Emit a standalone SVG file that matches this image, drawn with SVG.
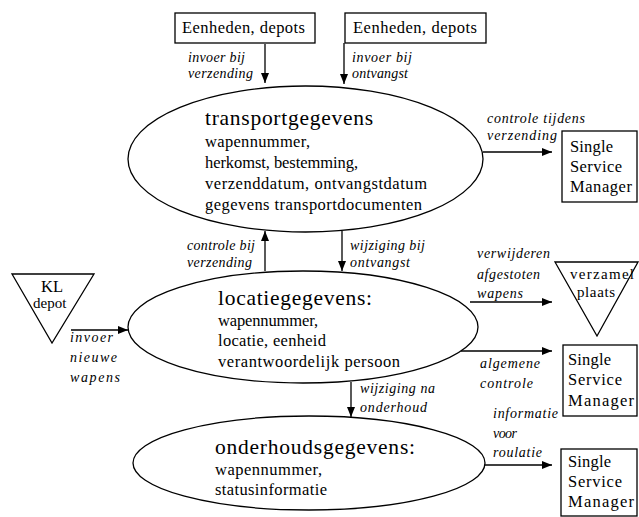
<svg xmlns="http://www.w3.org/2000/svg" width="639" height="517" viewBox="0 0 639 517">
<style>
.s{fill:none;stroke:#000;stroke-width:1.3}
.c{stroke:#000;stroke-width:1.3;fill:none}
.t{font-family:"Liberation Serif",serif;fill:#000}
.ti{font-size:21.5px}
.b{font-size:16.5px}
.bx{font-size:16.5px}
.sm{font-size:15px}
.l{font-family:"Liberation Serif",serif;font-style:italic;font-size:14px;fill:#000}
</style>
<defs>
<marker id="ah" markerUnits="userSpaceOnUse" markerWidth="10" markerHeight="8" refX="10" refY="4" orient="auto">
<path d="M0,0 L10,4 L0,8 z" fill="#000"/>
</marker>
</defs>
<rect width="639" height="517" fill="#fff"/>

<g id="eenheden1">
<rect class="s" x="175" y="13" width="140" height="30"/>
<text class="t bx" x="182" y="33" textLength="123">Eenheden, depots</text>
</g>
<g id="eenheden2">
<rect class="s" x="345" y="13" width="141" height="30"/>
<text class="t bx" x="353" y="33" textLength="124">Eenheden, depots</text>
</g>

<g id="transportgegevens">
<ellipse class="s" cx="305.5" cy="159" rx="177.5" ry="73"/>
<text class="t ti" x="205" y="125" textLength="168">transportgegevens</text>
<text class="t b" x="205" y="147" textLength="105">wapennummer,</text>
<text class="t b" x="205" y="168" textLength="153">herkomst, bestemming,</text>
<text class="t b" x="205" y="189" textLength="222">verzenddatum, ontvangstdatum</text>
<text class="t b" x="205" y="210" textLength="217">gegevens transportdocumenten</text>
</g>

<g id="ssm1">
<rect class="s" x="562" y="131" width="75" height="71"/>
<text class="t bx" x="570" y="152" textLength="43">Single</text>
<text class="t bx" x="570" y="172" textLength="52">Service</text>
<text class="t bx" x="570" y="192" textLength="62">Manager</text>
</g>

<g id="kldepot">
<polygon class="s" points="12,274 94,274 52,343"/>
<text class="t bx" x="41" y="292">KL</text>
<text class="t sm" x="33" y="308">depot</text>
</g>

<g id="locatiegegevens">
<ellipse class="s" cx="303" cy="327" rx="175" ry="56"/>
<text class="t ti" x="218" y="305" textLength="154">locatiegegevens:</text>
<text class="t b" x="218" y="326" textLength="100">wapennummer,</text>
<text class="t b" x="218" y="346" textLength="108">locatie, eenheid</text>
<text class="t b" x="218" y="367" textLength="182">verantwoordelijk  persoon</text>
</g>

<g id="verzamelplaats">
<polygon class="s" points="555,262 638,262 597,336"/>
<text class="t sm" x="570" y="279" textLength="64">verzamel</text>
<text class="t sm" x="577" y="297" textLength="38">plaats</text>
</g>

<g id="ssm2">
<rect class="s" x="563" y="345" width="74" height="71"/>
<text class="t bx" x="568" y="365" textLength="43">Single</text>
<text class="t bx" x="568" y="385" textLength="54">Service</text>
<text class="t bx" x="568" y="406" textLength="66">Manager</text>
</g>

<g id="onderhoudsgegevens">
<ellipse class="s" cx="309" cy="463" rx="176" ry="47"/>
<text class="t ti" x="215" y="454" textLength="200">onderhoudsgegevens:</text>
<text class="t b" x="215" y="475" textLength="107">wapennummer,</text>
<text class="t b" x="215" y="495" textLength="112">statusinformatie</text>
</g>

<g id="ssm3">
<rect class="s" x="561" y="449" width="76" height="67"/>
<text class="t bx" x="568" y="467" textLength="43">Single</text>
<text class="t bx" x="568" y="487" textLength="54">Service</text>
<text class="t bx" x="568" y="507" textLength="66">Manager</text>
</g>

<g id="connectors">
<line class="c" x1="265" y1="44" x2="265" y2="83" marker-end="url(#ah)"/>
<line class="c" x1="344" y1="43" x2="344" y2="84" marker-end="url(#ah)"/>
<line class="c" x1="483" y1="152" x2="552" y2="152" marker-end="url(#ah)"/>
<line class="c" x1="265" y1="271" x2="265" y2="231" marker-end="url(#ah)"/>
<line class="c" x1="342" y1="231" x2="342" y2="271" marker-end="url(#ah)"/>
<line class="c" x1="71" y1="330" x2="128" y2="330" marker-end="url(#ah)"/>
<line class="c" x1="470" y1="302" x2="552" y2="302" marker-end="url(#ah)"/>
<line class="c" x1="461" y1="351" x2="552" y2="351" marker-end="url(#ah)"/>
<line class="c" x1="351" y1="382" x2="351" y2="417" marker-end="url(#ah)"/>
<line class="c" x1="485" y1="465" x2="552" y2="465" marker-end="url(#ah)"/>
</g>

<g id="labels">
<text class="l" x="188" y="62" textLength="57">invoer bij</text>
<text class="l" x="188" y="78" textLength="65">verzending</text>
<text class="l" x="352" y="62" textLength="60">invoer bij</text>
<text class="l" x="352" y="78" textLength="56">ontvangst</text>
<text class="l" x="487" y="123" textLength="98">controle tijdens</text>
<text class="l" x="487" y="140" textLength="70">verzending</text>
<text class="l" x="187" y="250" textLength="68">controle bij</text>
<text class="l" x="187" y="267" textLength="65">verzending</text>
<text class="l" x="350" y="250" textLength="75">wijziging bij</text>
<text class="l" x="350" y="267" textLength="60">ontvangst</text>
<text class="l" x="70" y="342" textLength="43">invoer</text>
<text class="l" x="70" y="362" textLength="47">nieuwe</text>
<text class="l" x="70" y="382" textLength="50">wapens</text>
<text class="l" x="477" y="258" textLength="73">verwijderen</text>
<text class="l" x="477" y="279" textLength="63">afgestoten</text>
<text class="l" x="477" y="298" textLength="46">wapens</text>
<text class="l" x="480" y="368" textLength="60">algemene</text>
<text class="l" x="480" y="388" textLength="53">controle</text>
<text class="l" x="360" y="393" textLength="75">wijziging na</text>
<text class="l" x="360" y="412" textLength="67">onderhoud</text>
<text class="l" x="493" y="418" textLength="65">informatie</text>
<text class="l" x="493" y="438" textLength="24">voor</text>
<text class="l" x="493" y="457" textLength="49">roulatie</text>
</g>
</svg>
